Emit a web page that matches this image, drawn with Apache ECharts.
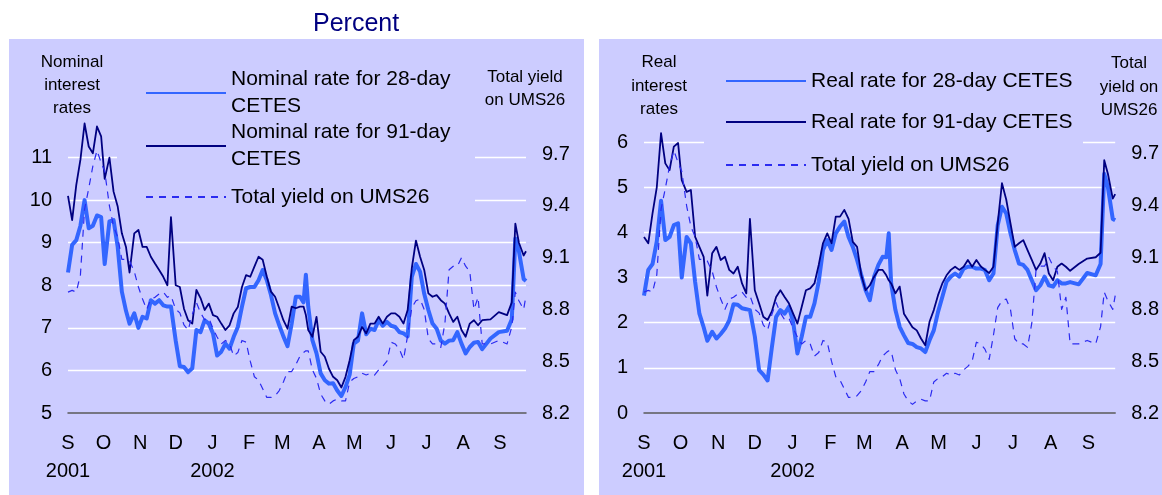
<!DOCTYPE html>
<html><head><meta charset="utf-8">
<script src="https://cdn.jsdelivr.net/npm/echarts@6/dist/echarts.min.js"></script>
<style>
html,body{margin:0;padding:0;background:#fff;}
#wrap{position:relative;width:1162px;height:495px;overflow:hidden;}
.panel{position:absolute;background:#CCCCFF;}
#chart{position:absolute;left:0;top:0;width:1162px;height:495px;}
</style></head><body>
<div id="wrap">
<div class="panel" style="left:9px;top:39px;width:575px;height:456px"></div>
<div class="panel" style="left:599px;top:39px;width:563px;height:456px"></div>
<div id="chart"></div>
</div>
<script>
// Days since 1 September 2001
const days = [0,3.5,7,10.5,14,17.5,21,24.5,28,31,35,38.5,42,45.5,49,52,56,59.5,63,66.5,70,73.5,77,80.5,84,87,91,94.5,98,101.5,105,108.5,112,115.5,119,122.5,126,129.5,133,136.5,140,143.5,147,150.5,154,157.5,161,164.5,168,171.5,175,178.5,182,185.5,189,192.5,196,199,201,203,206.5,210,213.5,217,220.5,224,227.5,231,234.5,238,241.5,245,248.5,252,255.5,259,262.5,266,269.5,273,276.5,280,283.5,287,290.5,294,297.5,301,304.5,308,311.5,315,318.5,322,325.5,329,332.5,336,339.5,343,346.5,350,357,364,371,375,378,381,385,387];

const nominal28 = [8.3,8.95,9.06,9.4,10.0,9.34,9.4,9.64,9.6,8.5,9.5,9.53,8.9,7.85,7.4,7.1,7.34,7.0,7.26,7.22,7.65,7.57,7.65,7.53,7.5,7.5,6.7,6.1,6.08,5.96,6.05,6.95,6.9,7.18,7.1,6.87,6.35,6.44,6.63,6.51,6.79,7.02,7.5,7.93,7.96,7.96,8.12,8.36,8.12,7.77,7.34,7.06,6.8,6.57,7.1,7.73,7.73,7.6,8.25,7.5,6.71,6.4,5.93,5.77,5.69,5.7,5.53,5.4,5.61,5.9,6.63,6.7,7.34,6.85,6.98,6.95,7.18,7.05,7.14,7.05,7.02,6.9,6.87,6.8,8.2,8.5,8.32,7.8,7.42,7.1,6.98,6.7,6.63,6.7,6.71,6.9,6.63,6.4,6.55,6.65,6.67,6.5,6.75,6.9,6.93,7.2,9.1,8.8,8.15,8.1];

const nominal91 = [10.1,9.53,10.36,10.95,11.8,11.26,11.1,11.73,11.5,10.5,11.0,10.2,9.85,9.22,8.9,8.3,9.22,9.3,8.9,8.9,8.67,8.51,8.36,8.2,8.0,9.6,8.0,7.96,7.45,7.18,7.1,7.89,7.7,7.42,7.57,7.3,7.26,7.1,6.95,7.06,7.34,7.49,7.96,8.24,8.2,8.44,8.67,8.6,8.2,7.85,7.73,7.46,7.18,6.98,7.5,7.46,7.5,7.5,7.3,6.95,6.79,7.26,6.44,6.32,6.04,5.85,5.77,5.6,5.85,6.24,6.71,6.79,7.02,6.87,7.1,7.1,7.26,7.1,7.26,7.34,7.34,7.26,7.1,7.42,8.4,9.05,8.67,8.36,7.81,7.73,7.77,7.65,7.57,7.34,7.14,7.26,6.95,6.79,7.1,7.18,7.06,7.18,7.2,7.37,7.3,7.6,9.45,9.0,8.7,8.8];

const ums26 = [8.9,8.91,8.9,9.0,9.38,9.5,9.63,9.72,9.65,9.6,9.4,9.28,9.22,9.09,9.09,9.08,9.02,8.93,8.86,8.8,8.86,8.87,8.89,8.9,8.87,8.88,8.8,8.78,8.71,8.68,8.77,8.84,8.78,8.74,8.75,8.69,8.64,8.6,8.62,8.6,8.53,8.55,8.62,8.61,8.5,8.41,8.39,8.34,8.29,8.29,8.3,8.33,8.38,8.44,8.44,8.48,8.53,8.55,8.56,8.56,8.45,8.4,8.31,8.27,8.25,8.27,8.28,8.27,8.27,8.38,8.4,8.41,8.43,8.42,8.43,8.42,8.45,8.47,8.5,8.61,8.6,8.57,8.51,8.65,8.81,8.85,8.86,8.8,8.63,8.6,8.6,8.58,8.72,9.03,9.05,9.05,9.1,9.05,9.02,8.8,8.87,8.6,8.6,8.62,8.6,8.7,8.9,8.85,8.8,8.88];

const real28 = [2.6,3.17,3.3,3.8,4.7,3.83,3.9,4.16,4.2,3.0,3.9,3.76,2.9,2.2,1.9,1.6,1.8,1.65,1.75,1.87,2.05,2.41,2.4,2.32,2.3,2.28,1.7,0.95,0.85,0.72,1.45,2.13,2.28,2.2,2.35,2.02,1.32,1.69,2.13,2.13,2.43,2.91,3.61,3.83,3.61,3.98,4.13,4.24,3.9,3.68,3.39,3.05,2.72,2.5,3.02,3.28,3.46,3.45,3.98,2.87,2.28,1.91,1.72,1.55,1.53,1.46,1.43,1.35,1.61,1.83,2.24,2.57,2.91,3.02,3.09,3.02,3.2,3.24,3.24,3.2,3.2,3.17,2.94,3.09,4.16,4.57,4.42,3.98,3.61,3.31,3.28,3.17,2.94,2.72,2.83,3.02,2.83,2.8,2.94,2.87,2.87,2.9,2.85,3.1,3.05,3.3,5.3,5.0,4.3,4.27];

const real91 = [3.9,3.76,4.42,5.0,6.2,5.53,5.38,5.9,5.98,5.16,4.9,4.94,3.9,3.68,3.46,2.6,3.54,3.68,3.39,3.46,3.17,3.09,3.24,2.87,2.65,4.3,2.72,2.43,2.13,2.06,2.25,2.57,2.72,2.57,2.43,2.2,1.98,2.35,2.72,2.76,2.87,3.28,3.76,3.98,3.76,4.35,4.35,4.5,4.3,3.79,3.68,3.05,2.72,2.83,3.02,3.17,3.17,3.05,2.94,2.87,2.65,2.8,2.2,2.05,1.9,1.83,1.65,1.5,2.02,2.28,2.61,2.87,3.05,3.17,3.24,3.17,3.24,3.39,3.24,3.39,3.25,3.17,3.1,3.24,4.2,5.09,4.73,4.2,3.68,3.76,3.83,3.61,3.39,3.17,3.31,3.54,3.09,2.94,3.24,3.31,3.24,3.15,3.3,3.42,3.45,3.55,5.6,5.3,4.75,4.85];

const monthDays = [0,30,61,91,122,153,181,212,242,273,303,334,365];
const monthLabels = ['S','O','N','D','J','F','M','A','M','J','J','A','S'];
const yearDays = [0,122];
const yearLabels = ['2001','2002'];

const names = {
  n28: 'Nominal rate for 28-day CETES',
  n91: 'Nominal rate for 91-day CETES',
  r28: 'Real rate for 28-day CETES',
  r91: 'Real rate for 91-day CETES',
  ums: 'Total yield on UMS26'
};

const FONT = "'Liberation Sans', Arial, Helvetica, sans-serif";
const BG = '#CCCCFF';
const C28 = '#3366FF', C91 = '#000080', CUMS = '#2B2BF0';

function monthAxis(gi) {
  return {type:'value', gridIndex:gi, min:0, max:387, position:'bottom',
    axisLine:{show:true, onZero:false, lineStyle:{color:'#5a5a5a', width:1.5}},
    axisTick:{show:false}, splitLine:{show:false},
    axisLabel:{customValues: monthDays, formatter: v => { const i = monthDays.indexOf(Math.round(v)); return i >= 0 ? monthLabels[i] : ''; },
      margin:20, fontSize:20, lineHeight:20, color:'#000', fontFamily:FONT}};
}
function yearAxis(gi) {
  return {type:'value', gridIndex:gi, min:0, max:387, position:'bottom',
    axisLine:{show:false, onZero:false}, axisTick:{show:false}, splitLine:{show:false},
    axisLabel:{customValues: yearDays, formatter: v => { const i = yearDays.indexOf(Math.round(v)); return i >= 0 ? yearLabels[i] : ''; },
      margin:48, fontSize:20, lineHeight:20, color:'#000', fontFamily:FONT}};
}
function leftAxis(gi, min, max) {
  return {type:'value', gridIndex:gi, min, max, interval:1, position:'left',
    axisLine:{show:false}, axisTick:{show:false},
    axisLabel:{showMaxLabel:false, margin:16, fontSize:20, color:'#000', fontFamily:FONT},
    splitLine:{show:true, showMinLine:false, showMaxLine:false, lineStyle:{color:'#ffffff', width:1.3}}};
}
function rightAxis(gi, max) {
  return {type:'value', gridIndex:gi, min:8.2, max, interval:0.3, position:'right',
    axisLine:{show:false}, axisTick:{show:false}, splitLine:{show:false},
    axisLabel:{showMaxLabel:false, margin:16, fontSize:20, color:'#000', fontFamily:FONT,
      formatter: v => (v > 9.75 ? '' : v.toFixed(1))}};
}
function line(name, arr, xi, yi, color, width, dash, z) {
  return {name, type:'line', xAxisIndex:xi, yAxisIndex:yi, z,
    data: days.map((d, i) => [d, arr[i]]),
    symbol:'none', showSymbol:false, silent:true, animation:false,
    lineStyle:{color, width, type: dash || 'solid', join:'round'}, itemStyle:{color}};
}
function legendItem(name, left, iconY, twoLine) {
  const lh = 27;
  return {show:true, orient:'vertical', left, top: iconY - (twoLine ? 1.5 * lh : 0.5 * lh), padding:0,
    itemWidth:80, itemHeight:14, itemGap:0, data:[name], selectedMode:false,
    itemStyle:{opacity:0, borderWidth:0},
    formatter: n => twoLine ? n.replace(' CETES', '\nCETES') : n,
    textStyle:{fontSize:21, fontFamily:FONT, color:'#000', lineHeight:lh, padding: twoLine ? [lh,0,0,0] : 0}};
}
function header(text, x, y, lh) {
  return {type:'text', x, y, z:10, silent:true,
    style:{text, fill:'#000', fontSize:17, fontFamily:FONT, font:"17px " + FONT,
      textAlign:'center', align:'center', textVerticalAlign:'top', verticalAlign:'top', lineHeight:lh}};
}

const option = {
  animation:false,
  backgroundColor:'transparent',
  title:{text:'Percent', left:313, top:12, padding:0,
    textStyle:{color:'#000080', fontSize:25, fontWeight:'normal', fontFamily:FONT}},
  grid:[
    {left:68, top:115, width:458, height:298},
    {left:644, top:97, width:474, height:316}
  ],
  xAxis:[monthAxis(0), yearAxis(0), monthAxis(1), yearAxis(1)],
  yAxis:[leftAxis(0, 5, 12), rightAxis(0, 9.926), leftAxis(1, 0, 7), rightAxis(1, 10.03)],
  legend:[
    legendItem(names.n28, 145, 93, true),
    legendItem(names.n91, 145, 146, true),
    legendItem(names.ums, 145, 197, false),
    legendItem(names.r28, 725, 81, false),
    legendItem(names.r91, 725, 122, false),
    legendItem(names.ums, 725, 165, false)
  ],
  graphic:[
    {type:'rect', z:1, silent:true, shape:{x:117, y:66, width:358, height:138}, style:{fill:BG}},
    {type:'rect', z:1, silent:true, shape:{x:704, y:55, width:379, height:123}, style:{fill:BG}},
    header('Nominal\ninterest\nrates', 72, 51, 23),
    header('Total yield\non UMS26', 525, 66, 23),
    header('Real\ninterest\nrates', 659, 51, 23.5),
    header('Total\nyield on\nUMS26', 1129, 52, 23.5)
  ],
  series:[
    line(names.n28, nominal28, 0, 0, C28, 4, null, 3),
    line(names.n91, nominal91, 0, 0, C91, 1.8, null, 4),
    line(names.ums, ums26, 0, 1, CUMS, 1.2, [7,6], 5),
    line(names.r28, real28, 2, 2, C28, 4, null, 3),
    line(names.r91, real91, 2, 2, C91, 1.8, null, 4),
    line(names.ums, ums26, 2, 3, CUMS, 1.2, [7,6], 5)
  ]
};
const chart = echarts.init(document.getElementById('chart'), null, {renderer:'canvas'});
chart.setOption(option);
</script>
</body></html>
